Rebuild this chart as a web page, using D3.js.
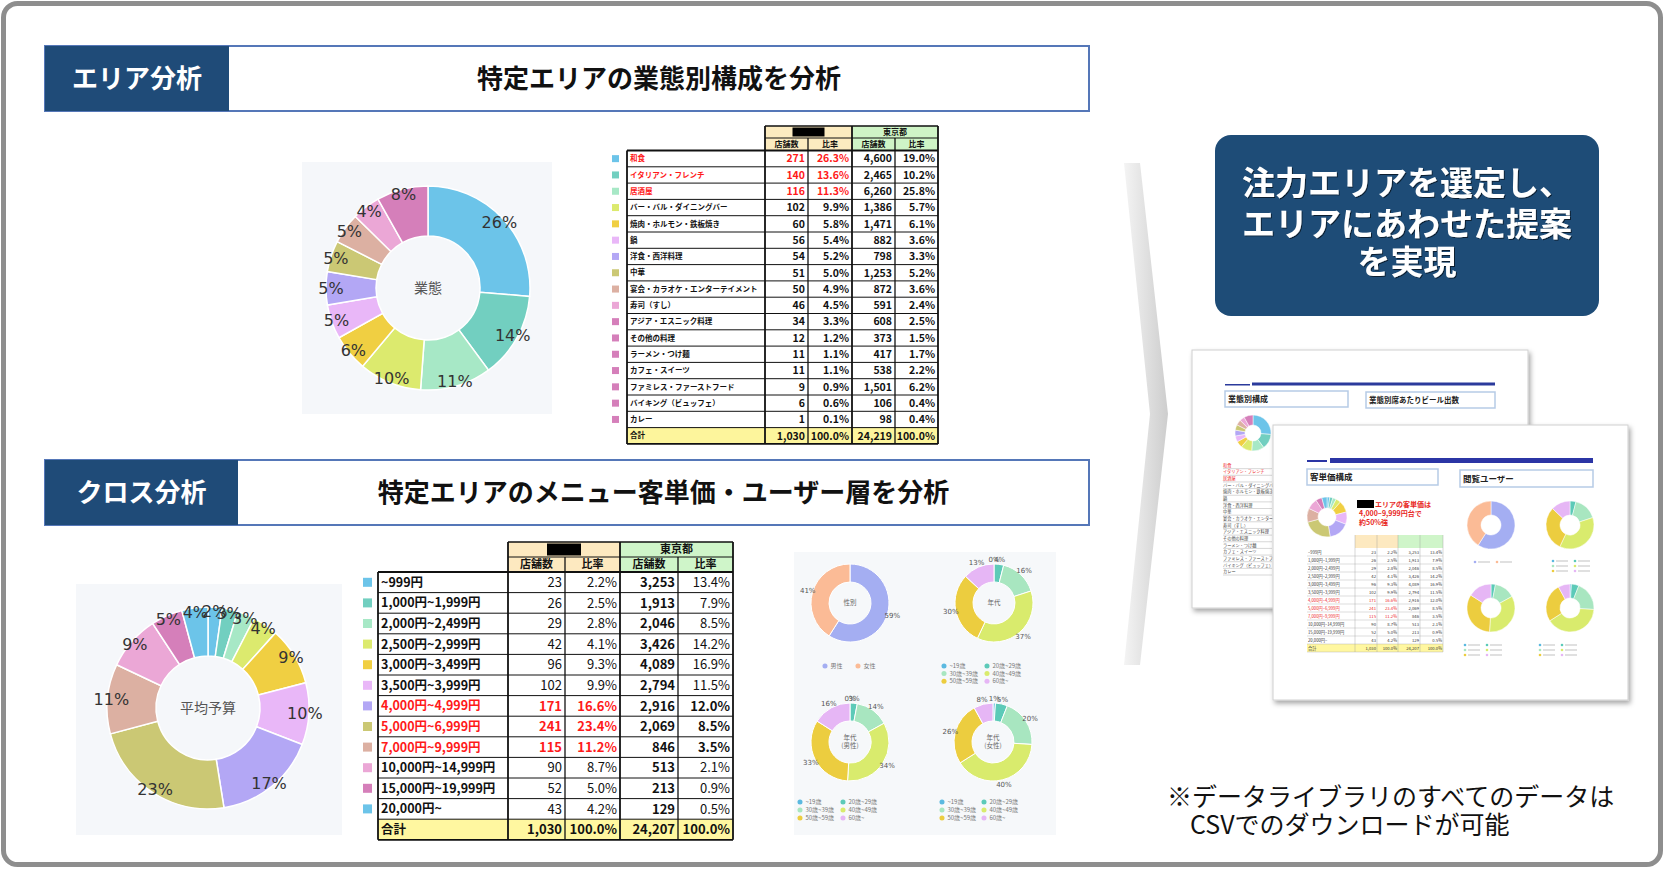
<!DOCTYPE html>
<html><head><meta charset="utf-8">
<script src="https://cdn.jsdelivr.net/npm/d3@7"></script>
<style>
html,body{margin:0;padding:0;background:#fff;}
svg{display:block;}
</style></head><body>
<svg id="c" width="1664" height="870"></svg>
<script>
// ---------------- DATA ----------------
const bizCategories = ["和食","イタリアン・フレンチ","居酒屋","バー・バル・ダイニングバー","焼肉・ホルモン・鉄板焼き","鍋","洋食・西洋料理","中華","宴会・カラオケ・エンターテイメント","寿司（すし）","アジア・エスニック料理","その他の料理","ラーメン・つけ麺","カフェ・スイーツ","ファミレス・ファーストフード","バイキング（ビュッフェ）","カレー"];
const bizAreaCount = [271,140,116,102,60,56,54,51,50,46,34,12,11,11,9,6,1];
const bizAreaRatio = [26.3,13.6,11.3,9.9,5.8,5.4,5.2,5.0,4.9,4.5,3.3,1.2,1.1,1.1,0.9,0.6,0.1];
const bizTokyoCount = [4600,2465,6260,1386,1471,882,798,1253,872,591,608,373,417,538,1501,106,98];
const bizTokyoRatio = [19.0,10.2,25.8,5.7,6.1,3.6,3.3,5.2,3.6,2.4,2.5,1.5,1.7,2.2,6.2,0.4,0.4];
const bizTotal = {area:1030, areaRatio:100.0, tokyo:24219, tokyoRatio:100.0};
const bizHighlight = [0,1,2];
const bizDonutTop = 10; // first 10 categories shown separately, the rest merged
const bizColors = ["#6cc4e9","#72cfc0","#a7e8c6","#dcea6e","#f0cf42","#e9b7f8","#b3a7f5","#cbc874","#dcb0a2","#eba7d6","#d57fba","#d57fba","#d57fba","#d57fba","#d57fba","#d57fba","#d57fba"];

const priceCategories = ["~999円","1,000円~1,999円","2,000円~2,499円","2,500円~2,999円","3,000円~3,499円","3,500円~3,999円","4,000円~4,999円","5,000円~6,999円","7,000円~9,999円","10,000円~14,999円","15,000円~19,999円","20,000円~"];
const priceAreaCount = [23,26,29,42,96,102,171,241,115,90,52,43];
const priceAreaRatio = [2.2,2.5,2.8,4.1,9.3,9.9,16.6,23.4,11.2,8.7,5.0,4.2];
const priceTokyoCount = [3253,1913,2046,3426,4089,2794,2916,2069,846,513,213,129];
const priceTokyoRatio = [13.4,7.9,8.5,14.2,16.9,11.5,12.0,8.5,3.5,2.1,0.9,0.5];
const priceTotal = {area:1030, areaRatio:100.0, tokyo:24207, tokyoRatio:100.0};
const priceHighlight = [6,7,8];
const priceColors = ["#6cc4e9","#72cfc0","#a7e8c6","#dcea6e","#f0cf42","#e9b7f8","#b3a7f5","#cbc874","#dcb0a2","#eba7d6","#d57fba","#6cc4e9"];

const genderLabels = ["男性","女性"];
const genderValues = [59,41];
const genderColors = ["#a4aef2","#fbbb96"];
const ageLabels = ["~19歳","20歳~29歳","30歳~39歳","40歳~49歳","50歳~59歳","60歳~"];
const ageAll = [0,4,16,37,30,13];
const ageMale = [0,3,14,34,33,16];
const ageFemale = [1,5,20,40,26,8];
const ageColors = ["#5bb9e0","#5ccab8","#a8e6c0","#d9eb6d","#eccd3f","#e6b6f5"];

// ---------------- DRAW ----------------
const JP = '"Noto Sans CJK JP","Noto Sans",sans-serif';
const LBL = '"DejaVu Sans",sans-serif';
const svg = d3.select("#c");
const defs = svg.append("defs");
const sh = defs.append("filter").attr("id","shadow").attr("x","-10%").attr("y","-10%").attr("width","125%").attr("height","125%");
sh.append("feDropShadow").attr("dx",2).attr("dy",3).attr("stdDeviation",2.5).attr("flood-color","#000").attr("flood-opacity",0.35);
const ts = defs.append("filter").attr("id","tshadow");
ts.append("feDropShadow").attr("dx",1).attr("dy",1).attr("stdDeviation",0.6).attr("flood-color","#000").attr("flood-opacity",0.6);
const gr = defs.append("linearGradient").attr("id","chev").attr("x1","0").attr("x2","1").attr("y1","0").attr("y2","0");
gr.append("stop").attr("offset","0").attr("stop-color","#f4f4f4");
gr.append("stop").attr("offset","1").attr("stop-color","#cdcdcd");

// frame
svg.append("rect").attr("x",3.5).attr("y",3.5).attr("width",1657).attr("height",861).attr("rx",14)
  .attr("fill","#fff").attr("stroke","#8e8e8e").attr("stroke-width",5);

// headers
function header(y, h, boxW, label, title){
  const g = svg.append("g");
  g.append("rect").attr("x",45).attr("y",y).attr("width",1044).attr("height",h).attr("fill","#fff").attr("stroke","#5577b8").attr("stroke-width",2);
  g.append("rect").attr("x",45).attr("y",y).attr("width",boxW).attr("height",h).attr("fill","#1f4b78");
  g.append("text").attr("x",45+boxW/2).attr("y",y+h/2).attr("dy","0.36em").attr("text-anchor","middle")
    .attr("fill","#fff").attr("font-family",JP).attr("font-weight",700).attr("font-size",26).text(label);
  g.append("text").attr("x",(45+boxW+1089)/2).attr("y",y+h/2).attr("dy","0.36em").attr("text-anchor","middle")
    .attr("fill","#111").attr("font-family",JP).attr("font-weight",700).attr("font-size",26).text(title);
}
header(46,65,184,"エリア分析","特定エリアの業態別構成を分析");
header(460,65,193,"クロス分析","特定エリアのメニュー客単価・ユーザー層を分析");

// donut helper
function donut(parent, cx, cy, rIn, rOut, values, colors, o){
  const g = parent.append("g").attr("transform",`translate(${cx},${cy})`);
  const pie = d3.pie().sort(null).value(d=>d)(values);
  const arc = d3.arc().innerRadius(rIn).outerRadius(rOut);
  g.selectAll("path").data(pie).join("path").attr("d",arc).attr("fill",(d,i)=>colors[i])
    .attr("stroke",o.sep||"#fff").attr("stroke-width",o.sepW==null?1.5:o.sepW);
  if(o.labelR){
    const total = d3.sum(values);
    const la = d3.arc().innerRadius(o.labelR).outerRadius(o.labelR);
    g.selectAll("text.p").data(pie).join("text").attr("class","p")
      .attr("transform",d=>`translate(${la.centroid(d)})`).attr("text-anchor","middle").attr("dy","0.36em")
      .attr("font-family",o.labelFont||LBL).attr("font-size",o.labelSize).attr("fill",o.labelColor||"#333")
      .text(d=>Math.round(d.value/total*100)+"%");
  }
  if(o.center){
    const lines = o.center;
    lines.forEach((t,i)=>{
      g.append("text").attr("x",0).attr("y",(i-(lines.length-1)/2)*o.centerSize*1.25).attr("dy","0.36em")
        .attr("text-anchor","middle").attr("font-family",JP).attr("font-size",o.centerSize).attr("fill",o.centerColor||"#666").text(t);
    });
  }
  return g;
}

// panels
svg.append("rect").attr("x",302).attr("y",162).attr("width",250).attr("height",252).attr("fill","#f5f7fa");
svg.append("rect").attr("x",76).attr("y",584).attr("width",266).attr("height",251).attr("fill","#f5f7fa");
svg.append("rect").attr("x",794).attr("y",552).attr("width",262).attr("height",283).attr("fill","#f6f8fa");

// top donut
const bizDonutValues = bizAreaCount.slice(0,bizDonutTop).concat([d3.sum(bizAreaCount.slice(bizDonutTop))]);
donut(svg,428,288,52,102,bizDonutValues,bizColors,{labelR:97,labelSize:16,center:["業態"],centerSize:14,centerColor:"#555"});
// bottom donut
donut(svg,208,708,52,101,priceAreaCount,priceColors,{labelR:97,labelSize:16,center:["平均予算"],centerSize:14,centerColor:"#555"});

// table helper
function fmtR(v){ return d3.format(".1f")(v)+"%"; }
function table(cfg){
  const g = svg.append("g");
  const X = cfg.x; // [labelStart, labelEnd, c1, c2, c3, c4]
  const n = cfg.labels.length + 1;
  const y = d3.scaleBand().domain(d3.range(n)).range([cfg.rowY, cfg.rowY + n*cfg.rowH]);
  const bottom = cfg.rowY + n*cfg.rowH;
  const hy = cfg.hdrY, hh = cfg.hdrH;
  g.append("rect").attr("x",X[1]).attr("y",hy).attr("width",X[3]-X[1]).attr("height",hh).attr("fill",cfg.areaFill);
  g.append("rect").attr("x",X[3]).attr("y",hy).attr("width",X[5]-X[3]).attr("height",hh).attr("fill",cfg.tokyoFill);
  g.append("rect").attr("x",X[1]).attr("y",hy+hh).attr("width",X[3]-X[1]).attr("height",cfg.rowY-hy-hh).attr("fill",cfg.areaFill);
  g.append("rect").attr("x",X[3]).attr("y",hy+hh).attr("width",X[5]-X[3]).attr("height",cfg.rowY-hy-hh).attr("fill",cfg.tokyoFill);
  const bw = cfg.blackW;
  g.append("rect").attr("x",(X[1]+X[3])/2-bw/2).attr("y",hy+1.5).attr("width",bw).attr("height",hh-3).attr("fill","#000");
  g.append("text").attr("x",(X[3]+X[5])/2).attr("y",hy+hh/2).attr("dy","0.36em").attr("text-anchor","middle")
    .attr("font-family",JP).attr("font-weight",700).attr("font-size",cfg.hfs).attr("fill","#111").text("東京都");
  ["店舗数","比率","店舗数","比率"].forEach((t,i)=>{
    g.append("text").attr("x",(X[i+1]+X[i+2])/2).attr("y",(hy+hh+cfg.rowY)/2).attr("dy","0.36em").attr("text-anchor","middle")
      .attr("font-family",JP).attr("font-weight",700).attr("font-size",cfg.hfs).attr("fill","#111").text(t);
  });
  const rows = cfg.labels.map((l,i)=>({label:l,color:cfg.colors[i],a:d3.format(",")(cfg.a[i]),ar:fmtR(cfg.ar[i]),t:d3.format(",")(cfg.t[i]),tr:fmtR(cfg.tr[i]),hl:cfg.hl.includes(i),total:false}));
  rows.push({label:"合計",color:null,a:d3.format(",")(cfg.total.area),ar:fmtR(cfg.total.areaRatio),t:d3.format(",")(cfg.total.tokyo),tr:fmtR(cfg.total.tokyoRatio),hl:false,total:true});
  rows.forEach((r,i)=>{
    const yy = y(i);
    g.append("rect").attr("x",X[0]).attr("y",yy).attr("width",X[5]-X[0]).attr("height",cfg.rowH).attr("fill",r.total?cfg.totalFill:"#fff");
    if(r.color){
      g.append("rect").attr("x",cfg.legendX).attr("y",yy+cfg.rowH/2-cfg.legendS/2).attr("width",cfg.legendS).attr("height",cfg.legendS).attr("fill",r.color);
    }
    const red = r.hl ? "#ff1a1a" : "#111";
    g.append("text").attr("x",X[0]+3).attr("y",yy+cfg.rowH/2).attr("dy","0.36em").attr("font-family",JP).attr("font-weight",700)
      .attr("font-size",cfg.lfs).attr("fill",red).text(r.label);
    const vals = [r.a,r.ar,r.t,r.tr];
    vals.forEach((v,k)=>{
      const col = (k<2)?red:"#111";
      const bold = cfg.allBold || r.hl || r.total || k===2;
      g.append("text").attr("x",X[k+2]-3).attr("y",yy+cfg.rowH/2).attr("dy","0.36em").attr("text-anchor","end")
        .attr("font-family",JP).attr("font-weight",bold?700:400).attr("font-size",cfg.nfs).attr("fill",col).text(v);
    });
  });
  const line = (x1,y1,x2,y2,w)=>g.append("line").attr("x1",x1).attr("y1",y1).attr("x2",x2).attr("y2",y2).attr("stroke","#111").attr("stroke-width",w);
  d3.range(n+1).forEach(i=>{ const yy = cfg.rowY + i*cfg.rowH; line(X[0],yy,X[5],yy,(i===0||i===n)?1.8:1); });
  line(X[1],hy,X[5],hy,1.5); line(X[1],hy+hh,X[5],hy+hh,1);
  line(X[0],cfg.rowY,X[0],bottom,1.8);
  [1,3,5].forEach(k=>line(X[k],hy,X[k],bottom,1.8));
  [2,4].forEach(k=>line(X[k],hy+hh,X[k],bottom,1.3));
  return g;
}

table({x:[627,765,808,852,895,938],hdrY:126,hdrH:12,rowY:150.5,rowH:16.3,legendX:612,legendS:7,
  labels:bizCategories,colors:bizColors,a:bizAreaCount,ar:bizAreaRatio,t:bizTokyoCount,tr:bizTokyoRatio,total:bizTotal,hl:bizHighlight,
  areaFill:"#fcebc0",tokyoFill:"#cff4c6",totalFill:"#fdf59c",blackW:32,hfs:8,lfs:7.5,nfs:10.5,allBold:true});

table({x:[378,508,565,620,678,733],hdrY:542,hdrH:15,rowY:572,rowH:20.6,legendX:363,legendS:9,
  labels:priceCategories,colors:priceColors,a:priceAreaCount,ar:priceAreaRatio,t:priceTokyoCount,tr:priceTokyoRatio,total:priceTotal,hl:priceHighlight,
  areaFill:"#fde9c0",tokyoFill:"#cff5c9",totalFill:"#fff7a0",blackW:34,hfs:11,lfs:12.5,nfs:13,allBold:false});

// small donuts
function legend(parent, items, colors, x0, y0, colW, rowH, cols, fs){
  items.forEach((t,i)=>{
    const cx = x0 + (i%cols)*colW, cy = y0 + Math.floor(i/cols)*rowH;
    parent.append("circle").attr("cx",cx).attr("cy",cy).attr("r",fs*0.42).attr("fill",colors[i]);
    parent.append("text").attr("x",cx+fs*0.9).attr("y",cy).attr("dy","0.36em").attr("font-family",JP).attr("font-size",fs).attr("fill","#777").text(t);
  });
}
donut(svg,850,603,21,39,genderValues,genderColors,{labelR:44,labelSize:7,labelColor:"#555",center:["性別"],centerSize:6.5,sepW:1});
donut(svg,994,603,21,39,ageAll,ageColors,{labelR:44,labelSize:7,labelColor:"#555",center:["年代"],centerSize:6.5,sepW:1});
donut(svg,850,742,21,39,ageMale,ageColors,{labelR:44,labelSize:7,labelColor:"#555",center:["年代","(男性)"],centerSize:6.5,sepW:1});
donut(svg,993,742,21,39,ageFemale,ageColors,{labelR:44,labelSize:7,labelColor:"#555",center:["年代","(女性)"],centerSize:6.5,sepW:1});
legend(svg,genderLabels,genderColors,825,666,33,8,2,6);
legend(svg,ageLabels,ageColors,944,666,43,7.6,2,6);
legend(svg,ageLabels,ageColors,800,802,43,8,2,6);
legend(svg,ageLabels,ageColors,942,802,42,8,2,6);

// chevron arrow
svg.append("polygon").attr("points","1124,163 1140,163 1168,414 1140,665 1124,665 1150,414").attr("fill","url(#chev)");

// callout
svg.append("rect").attr("x",1215).attr("y",135).attr("width",384).attr("height",181).attr("rx",16).attr("fill","#1e4c77");
["注力エリアを選定し、","エリアにあわせた提案","を実現"].forEach((t,i)=>{
  svg.append("text").attr("x",1407).attr("y",[183,224,262][i]).attr("dy","0.36em").attr("text-anchor","middle")
    .attr("font-family",JP).attr("font-weight",700).attr("font-size",33).attr("fill","#fff").attr("filter","url(#tshadow)").text(t);
});

// ---- mini documents ----
function titleBox(g,x,y,w,h,t,fs){
  g.append("rect").attr("x",x).attr("y",y).attr("width",w).attr("height",h).attr("fill","#fff").attr("stroke","#b6cbe6").attr("stroke-width",1.5);
  g.append("text").attr("x",x+3).attr("y",y+h/2).attr("dy","0.36em").attr("font-family",JP).attr("font-weight",700).attr("font-size",fs).attr("fill","#222").text(t);
}
const back = svg.append("g");
back.append("rect").attr("x",1192).attr("y",350).attr("width",336).attr("height",258).attr("fill","#fff").attr("stroke","#d0d0d0").attr("filter","url(#shadow)");
back.append("rect").attr("x",1225).attr("y",384).attr("width",25).attr("height",1.5).attr("fill","#2b3a9c");
back.append("rect").attr("x",1252).attr("y",382.5).attr("width",243).attr("height",3).attr("fill","#2b3a9c");
titleBox(back,1225,391,123,16,"業態別構成",8);
titleBox(back,1366,392,129,16,"業態別席あたりビール出数",7.5);
donut(back,1253,433,8,18,bizDonutValues,bizColors,{sepW:0.5});
const by = d3.scaleBand().domain(d3.range(bizCategories.length)).range([462,575]);
bizCategories.forEach((t,i)=>{
  back.append("text").attr("x",1223).attr("y",by(i)+by.bandwidth()/2).attr("dy","0.36em").attr("font-family",JP).attr("font-size",4.2)
    .attr("fill",bizHighlight.includes(i)?"#e22":"#444").text(t);
  back.append("line").attr("x1",1223).attr("x2",1272).attr("y1",by(i)+by.bandwidth()).attr("y2",by(i)+by.bandwidth()).attr("stroke","#999").attr("stroke-width",0.4);
});
const front = svg.append("g");
front.append("rect").attr("x",1273).attr("y",425).attr("width",355).attr("height",275).attr("fill","#fff").attr("stroke","#d0d0d0").attr("filter","url(#shadow)");
front.append("rect").attr("x",1307).attr("y",460).attr("width",20).attr("height",2).attr("fill","#2b35a5");
front.append("rect").attr("x",1330).attr("y",458).attr("width",263).attr("height",5).attr("fill","#2b35a5");
titleBox(front,1307,469,131,16,"客単価構成",8.5);
titleBox(front,1460,470,133,17,"閲覧ユーザー",8.5);
donut(front,1327,517,9,20,priceAreaCount,priceColors,{sepW:0.5});
front.append("rect").attr("x",1357).attr("y",500).attr("width",17).attr("height",8).attr("fill","#000");
[["エリアの客単価は",1375,504],["4,000~9,999円台で",1359,513],["約50%強",1359,522]].forEach(d=>{
  front.append("text").attr("x",d[1]).attr("y",d[2]).attr("dy","0.36em").attr("font-family",JP).attr("font-weight",700).attr("font-size",7).attr("fill","#e8281e").text(d[0]);
});
(function(){
  const X=[1307,1355,1377,1398,1420,1443];
  const n = priceCategories.length+1;
  const y = d3.scaleBand().domain(d3.range(n)).range([548,652]);
  front.append("rect").attr("x",X[1]).attr("y",535).attr("width",X[3]-X[1]).attr("height",13).attr("fill","#fde9c0");
  front.append("rect").attr("x",X[3]).attr("y",535).attr("width",X[5]-X[3]).attr("height",13).attr("fill","#cff5c9");
  front.append("rect").attr("x",X[0]).attr("y",y(n-1)).attr("width",X[5]-X[0]).attr("height",y.bandwidth()).attr("fill","#fff7a0");
  priceCategories.concat(["合計"]).forEach((t,i)=>{
    const hl = priceHighlight.includes(i);
    const yy = y(i)+y.bandwidth()/2;
    front.append("text").attr("x",X[0]+1).attr("y",yy).attr("dy","0.36em").attr("font-family",JP).attr("font-size",4.2).attr("fill",hl?"#e22":"#333").text(t);
    const vals = i<priceCategories.length ? [d3.format(",")(priceAreaCount[i]),fmtR(priceAreaRatio[i]),d3.format(",")(priceTokyoCount[i]),fmtR(priceTokyoRatio[i])]
      : [d3.format(",")(priceTotal.area),fmtR(priceTotal.areaRatio),d3.format(",")(priceTotal.tokyo),fmtR(priceTotal.tokyoRatio)];
    vals.forEach((v,k)=>front.append("text").attr("x",X[k+2]-1).attr("y",yy).attr("dy","0.36em").attr("text-anchor","end")
      .attr("font-family",JP).attr("font-size",4.2).attr("fill",(hl&&k<2)?"#e22":"#333").text(v));
    front.append("line").attr("x1",X[0]).attr("x2",X[5]).attr("y1",y(i)+y.bandwidth()).attr("y2",y(i)+y.bandwidth()).attr("stroke","#aaa").attr("stroke-width",0.4);
  });
  X.slice(1).forEach(x=>front.append("line").attr("x1",x).attr("x2",x).attr("y1",535).attr("y2",652).attr("stroke","#999").attr("stroke-width",0.4));
})();
donut(front,1491,525,10,24,genderValues,genderColors,{sepW:0.5});
donut(front,1570,525,10,24,ageAll,ageColors,{sepW:0.5});
donut(front,1491,608,10,24,ageMale,ageColors,{sepW:0.5});
donut(front,1570,608,10,24,ageFemale,ageColors,{sepW:0.5});
[[1475,562,genderColors,2],[1553,561,ageColors,6],[1465,645,ageColors,6],[1540,645,ageColors,6]].forEach(d=>{
  d[2].forEach((c,i)=>{
    const cx = d[0] + (i%2)*22, cy = d[1] + Math.floor(i/2)*5;
    front.append("circle").attr("cx",cx).attr("cy",cy).attr("r",1.3).attr("fill",c);
    front.append("rect").attr("x",cx+3).attr("y",cy-0.6).attr("width",12).attr("height",1.2).attr("fill","#ccc");
  });
});

// footnote
svg.append("text").attr("x",1167).attr("y",797).attr("dy","0.36em").attr("font-family",JP).attr("font-size",25).attr("fill","#111").text("※データライブラリのすべてのデータは");
svg.append("text").attr("x",1190).attr("y",825).attr("dy","0.36em").attr("font-family",JP).attr("font-size",25).attr("fill","#111").text("CSVでのダウンロードが可能");
</script></body></html>
